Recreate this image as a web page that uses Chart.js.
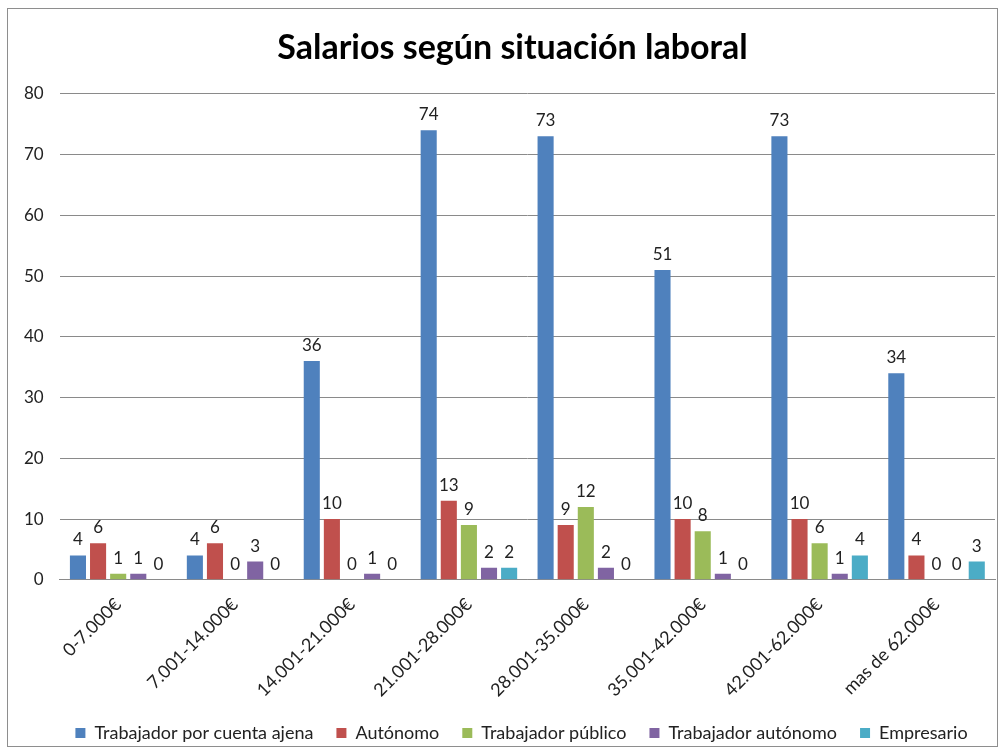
<!DOCTYPE html>
<html>
<head>
<meta charset="utf-8">
<script src="https://cdn.jsdelivr.net/npm/chart.js@4/dist/chart.umd.min.js"></script>
<style>
  body { margin: 0; background: #fff; }
  #frame {
    position: absolute; left: 7px; top: 8px;
    width: 991px; height: 739px;
    border: 1px solid #8e8e8e; box-sizing: border-box;
  }
</style>
</head>
<body>
<div id="frame"><canvas id="chart"></canvas></div>
<script>
// salary ranges
const categories = ['0-7.000€', '7.001-14.000€', '14.001-21.000€', '21.001-28.000€',
  '28.001-35.000€', '35.001-42.000€', '42.001-62.000€', 'mas de 62.000€'];

const cuentaAjena = [4, 4, 36, 74, 73, 51, 73, 34];
const autonomo = [6, 6, 10, 13, 9, 10, 10, 4];
const publico = [1, 0, 0, 9, 12, 8, 6, 0];
const trabAutonomo = [1, 3, 1, 2, 2, 1, 1, 0];
const empresario = [0, 0, 0, 2, 0, 0, 4, 3];

const yTicks = [0, 10, 20, 30, 40, 50, 60, 70, 80];

const fontFamily = 'Lato, "Open Sans", sans-serif';

// draws the value above every bar, zeros included
const valueLabels = {
  id: 'valueLabels',
  afterDatasetsDraw(chart) {
    const ctx = chart.ctx;
    ctx.save();
    ctx.font = '17px ' + fontFamily;
    ctx.fillStyle = '#222';
    ctx.textAlign = 'center';
    ctx.textBaseline = 'bottom';
    chart.data.datasets.forEach((ds, i) => {
      const meta = chart.getDatasetMeta(i);
      meta.data.forEach((bar, j) => {
        ctx.fillText(String(ds.data[j]), bar.x, bar.y - 7);
      });
    });
    ctx.restore();
  }
};

// nudge a layout box sideways when it is drawn
function shiftDraw(box, dx) {
  const draw = box.draw.bind(box);
  box.draw = function () {
    const c = this.ctx;
    c.save();
    c.translate(dx, 0);
    draw();
    c.restore();
  };
}

// wide gaps between legend items but a shorter legend box,
// title and legend centred a bit right like the original
const boxTweaks = {
  id: 'boxTweaks',
  afterInit(chart) {
    const legend = chart.legend;
    if (legend) {
      const fit = legend.fit.bind(legend);
      legend.fit = function () {
        fit();
        this.height -= 8;
      };
      shiftDraw(legend, 20);
    }
    if (chart.titleBlock) shiftDraw(chart.titleBlock, 11);
  }
};

const ctx = document.getElementById('chart').getContext('2d');
new Chart(ctx, {
  type: 'bar',
  data: {
    labels: categories,
    datasets: [
      { label: 'Trabajador por cuenta ajena', data: cuentaAjena, backgroundColor: '#4F81BD' },
      { label: 'Autónomo', data: autonomo, backgroundColor: '#C0504D' },
      { label: 'Trabajador público', data: publico, backgroundColor: '#9BBB59' },
      { label: 'Trabajador autónomo', data: trabAutonomo, backgroundColor: '#8064A2' },
      { label: 'Empresario', data: empresario, backgroundColor: '#4BACC6' }
    ]
  },
  options: {
    responsive: true,
    maintainAspectRatio: false,
    animation: false,
    datasets: {
      bar: { categoryPercentage: 0.86, barPercentage: 0.8 }
    },
    layout: { padding: { left: 0, right: 2, top: 16, bottom: 2 } },
    scales: {
      x: {
        grid: { display: false },
        border: { color: '#8a8a8a' },
        ticks: {
          minRotation: 45, maxRotation: 45,
          padding: 6,
          color: '#222',
          font: { family: fontFamily, size: 18 }
        },
        afterFit(scale) { scale.height -= 6; }
      },
      y: {
        min: 0, max: 80,
        afterBuildTicks(scale) { scale.ticks = yTicks.map(v => ({ value: v })); },
        grid: { color: '#8a8a8a', drawTicks: false },
        border: { display: false },
        ticks: {
          color: '#222',
          padding: 16,
          font: { family: fontFamily, size: 17 }
        }
      }
    },
    plugins: {
      title: {
        display: true,
        text: 'Salarios según situación laboral',
        color: '#000',
        font: { family: fontFamily, size: 34, weight: 'bold' },
        padding: { top: 3, bottom: 25 }
      },
      legend: {
        position: 'bottom',
        labels: {
          boxWidth: 10, boxHeight: 10,
          padding: 23,
          color: '#222',
          font: { family: fontFamily, size: 18 }
        }
      },
      tooltip: { enabled: false }
    }
  },
  plugins: [valueLabels, boxTweaks]
});
</script>
</body>
</html>
